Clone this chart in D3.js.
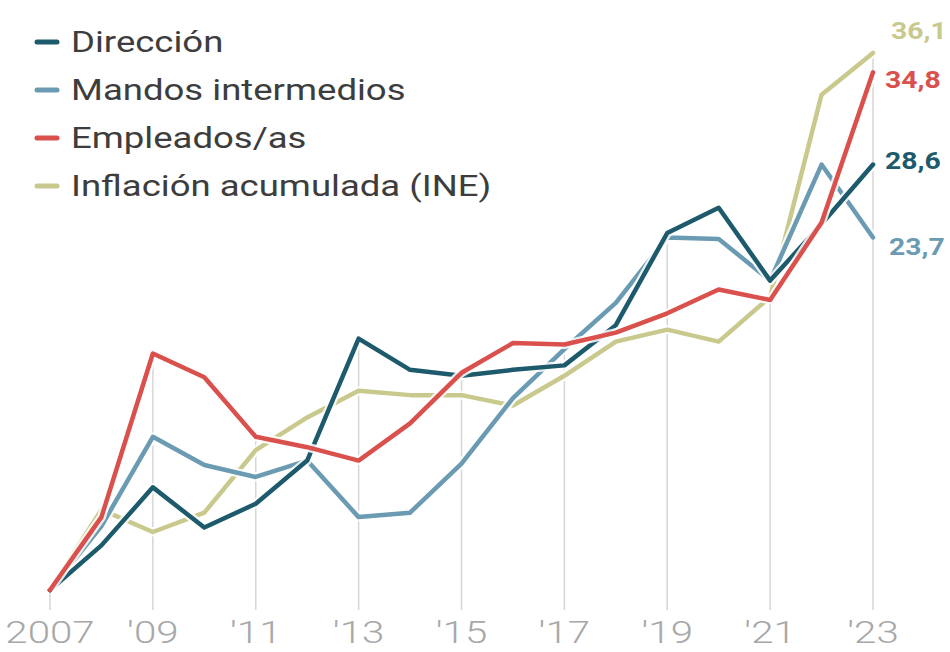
<!DOCTYPE html>
<html><head><meta charset="utf-8">
<script src="https://cdn.jsdelivr.net/npm/d3@7"></script>
<style>
html,body{margin:0;padding:0;background:#fff;overflow:hidden}
svg{display:block;font-family:Roboto,"Noto Sans",sans-serif}
</style></head><body>
<svg id="c" width="950" height="652"></svg>
<script>
const years = [2007,2008,2009,2010,2011,2012,2013,2014,2015,2016,2017,2018,2019,2020,2021,2022,2023];
const direccion = [0,3.0,6.9,4.2,5.8,8.7,16.9,14.8,14.4,14.8,15.1,17.8,24.0,25.7,20.8,24.6,28.6];
const mandos    = [0,4.3,10.3,8.4,7.6,8.7,4.9,5.2,8.5,12.9,16.2,19.3,23.7,23.6,20.8,28.6,23.7];
const empleados = [0,4.9,15.9,14.3,10.3,9.6,8.7,11.2,14.6,16.6,16.5,17.3,18.6,20.2,19.5,24.7,34.8];
const inflacion = [0,5.4,3.9,5.2,9.4,11.6,13.4,13.1,13.1,12.4,14.4,16.7,17.5,16.7,19.7,33.3,36.1];
const seriesNames = ["Dirección","Mandos intermedios","Empleados/as","Inflación acumulada (INE)"];
const seriesColors = ["#1d5a6c","#6b9bb3","#d9504c","#c9c98e"];
const endLabels = ["28,6","23,7","34,8","36,1"];
const tickYears = [2007,2009,2011,2013,2015,2017,2019,2021,2023];

const seriesData = [direccion, mandos, empleados, inflacion];
const SX = 1.26; // horizontal stretch of the lettering in the reference
const svg = d3.select("#c");
const x = d3.scaleLinear().domain([2007,2023]).range([50,873]);
const y = d3.scaleLinear().domain([0,36.1]).range([590,53]);

// gridlines from bottom up to max value at that year
const g = svg.append("g");
tickYears.forEach(yr=>{
  const i = years.indexOf(yr);
  const mx = d3.max(seriesData, s=>s[i]);
  g.append("line").attr("x1",x(yr)).attr("x2",x(yr))
    .attr("y1",y(0)+20).attr("y2",y(mx))
    .attr("stroke","#d6d6d6").attr("stroke-width",1.5);
});

// x tick labels
svg.append("g").selectAll("text").data(tickYears).join("text")
  .attr("transform",d=>`translate(${x(d)},643) scale(${SX},1)`)
  .attr("text-anchor","middle")
  .attr("font-size",32).attr("font-weight",300)
  .attr("fill","#a8a8a8")
  .text(d=> d===2007 ? "2007" : "'" + String(d).slice(2));

const line = d3.line().x((d,i)=>x(years[i])).y(d=>y(d));
const order = [3,1,0,2];
order.forEach(k=>{
  svg.append("path").datum(seriesData[k]).attr("d",line)
    .attr("fill","none").attr("stroke","#fff").attr("stroke-opacity",0.85)
    .attr("stroke-width",9).attr("stroke-linejoin","round");
  svg.append("path").datum(seriesData[k]).attr("d",line)
    .attr("fill","none").attr("stroke",seriesColors[k])
    .attr("stroke-width",4.5).attr("stroke-linejoin","round").attr("stroke-linecap","round");
});

// end labels
const labelDy = [-4, 9, 7, -22];
const labelDx = [12, 16, 12, 18];
seriesData.forEach((s,k)=>{
  svg.append("text")
    .attr("transform",`translate(${x(2023)+labelDx[k]},${y(s[s.length-1])+labelDy[k]}) scale(1.18,1)`)
    .attr("dominant-baseline","central")
    .attr("font-size",24).attr("font-weight",700)
    .attr("fill",seriesColors[k]).text(endLabels[k]);
});

// legend
const leg = svg.append("g");
seriesNames.forEach((n,k)=>{
  const cy = 42 + k*48;
  leg.append("line").attr("x1",37).attr("x2",57).attr("y1",cy).attr("y2",cy)
    .attr("stroke",seriesColors[k]).attr("stroke-width",5).attr("stroke-linecap","round");
  leg.append("text").attr("transform",`translate(71,${cy}) scale(${SX},1)`)
    .attr("dominant-baseline","central")
    .attr("font-size",29).attr("fill","#3d3d3d").text(n);
});
</script></body></html>
